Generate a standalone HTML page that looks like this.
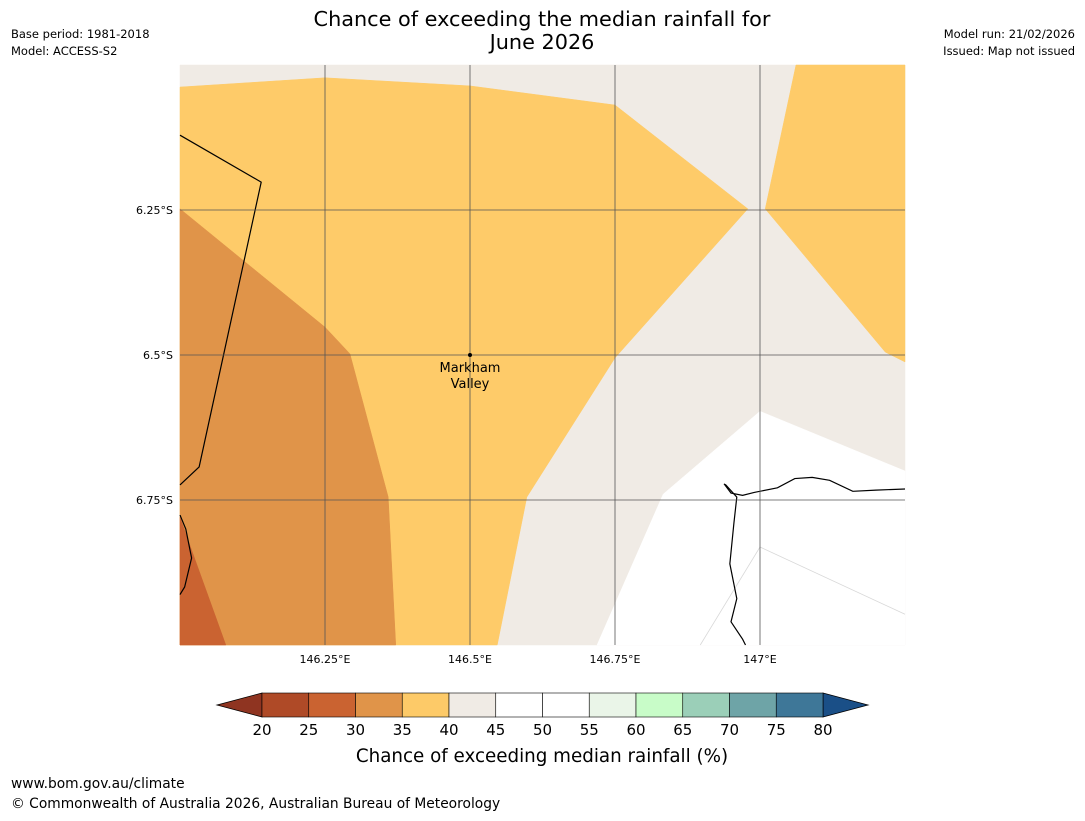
<!DOCTYPE html>
<html><head><meta charset="utf-8">
<style>
body{margin:0;background:#fff;width:1085px;height:816px;overflow:hidden;font-family:"Liberation Sans","DejaVu Sans",sans-serif}
svg text{font-family:"DejaVu Sans","Liberation Sans",sans-serif}
</style></head>
<body>
<svg id="c" width="1085" height="816">
<text x="542" y="26" font-size="20.8" text-anchor="middle">Chance of exceeding the median rainfall for</text>
<text x="542" y="49" font-size="20.8" text-anchor="middle">June 2026</text>
<text x="11" y="38" font-size="11.5">Base period: 1981-2018</text>
<text x="11" y="55" font-size="11.5">Model: ACCESS-S2</text>
<text x="1075" y="38" font-size="11.5" text-anchor="end">Model run: 21/02/2026</text>
<text x="1075" y="55" font-size="11.5" text-anchor="end">Issued: Map not issued</text>
<g id="map"></g>
<g id="cb"></g>
<text x="542" y="762" font-size="18.3" text-anchor="middle">Chance of exceeding median rainfall (%)</text>
<text x="11" y="788" font-size="13.8">www.bom.gov.au/climate</text>
<text x="11" y="808" font-size="13.8">© Commonwealth of Australia 2026, Australian Bureau of Meteorology</text>
</svg>
<script>
const lonTicks=[146.25,146.5,146.75,147];
const lonLabels=["146.25°E","146.5°E","146.75°E","147°E"];
const latTicks=[6.25,6.5,6.75];
const latLabels=["6.25°S","6.5°S","6.75°S"];
const beigeRegion=[[146,6],[147.25,6],[147.25,7],[146,7]];
const whiteRegion=[[147.25,6.7],[147,6.597],[146.833,6.74],[146.719,7],[147.25,7]];
const yellowRegion=[[146,6.038],[146.25,6.022],[146.5,6.036],[146.75,6.069],[146.979,6.248],[146.75,6.505],[146.598,6.745],[146.547,7],[146,7]];
const yellowRegionEast=[[147.062,6],[147.25,6],[147.25,6.512],[147.216,6.495],[147.009,6.248]];
const orangeRegion=[[146,6.248],[146.25,6.452],[146.293,6.498],[146.359,6.745],[146.372,7],[146,7]];
const redRegion=[[146,6.78],[146.017,6.828],[146.079,7],[146,7]];
const contourLine1=[[146.897,7],[147,6.831],[147.25,6.947]];
const borderLine=[[146,6.121],[146.14,6.202],[146.033,6.693],[146,6.724]];
const coastLine=[[146.938,6.722],[146.95,6.738],[146.97,6.742],[146.99,6.737],[147.03,6.729],[147.06,6.713],[147.09,6.711],[147.12,6.716],[147.16,6.735],[147.2,6.733],[147.25,6.731]];
const coastLine2=[[146.94,6.723],[146.96,6.745],[146.955,6.79],[146.948,6.86],[146.96,6.92],[146.95,6.96],[146.97,6.99],[146.975,7]];
const coastWest=[[146,6.776],[146.01,6.8],[146.02,6.85],[146.008,6.9],[146,6.913]];
const binValues=[20,25,30,35,40,45,50,55,60,65,70,75,80];
const binColors=["#af4a27","#ca6331","#e09449","#fdca68","#f0ebe5","#ffffff","#ffffff","#eaf5e8","#c8fcc8","#9bcfb8","#6ea4a7","#3e7798"];
const X0=180,Y0=65,S=580;
const px=lon=>X0+(lon-146)*S, py=lat=>Y0+(lat-6)*S;
const NS="http://www.w3.org/2000/svg";
const map=document.getElementById('map'), cb=document.getElementById('cb');
function mk(tag,attrs,parent){const e=document.createElementNS(NS,tag);for(const k in attrs)e.setAttribute(k,attrs[k]);parent.appendChild(e);return e;}
function pts(a){return a.map(p=>px(p[0])+","+py(p[1])).join(" ");}
function poly(a,fill,name){const e=mk('polygon',{points:pts(a),fill:fill,stroke:fill,'stroke-width':0.5},map);

}
function line(a,stroke,w,name){const e=mk('polyline',{points:pts(a),fill:'none',stroke:stroke,'stroke-width':w},map);

}
poly(beigeRegion,"#f0ebe5","region-40-45");
poly(whiteRegion,"#ffffff","region-45-55");
poly(yellowRegion,"#fecb69","region-35-40");
poly(yellowRegionEast,"#fecb69","region-35-40-east");
poly(orangeRegion,"#e09449","region-30-35");
poly(redRegion,"#ca6331","region-25-30");
line(contourLine1,"#d8d8d8",0.8,"contour-line");
line(borderLine,"#000",1.2,"border-line");
line(coastLine,"#000",1.2,"coastline-north");
line(coastLine2,"#000",1.2,"coastline-river");
line(coastWest,"#000",1.2,"coastline-west");
lonTicks.forEach((t,i)=>{const l=mk('line',{x1:px(t),x2:px(t),y1:py(6),y2:py(7),stroke:'#555','stroke-width':0.8},map);


const tx=mk('text',{x:px(t),y:py(7)+18,'font-size':11,'text-anchor':'middle'},map);tx.textContent=lonLabels[i];

});
latTicks.forEach((t,i)=>{const l=mk('line',{x1:px(146),x2:px(147.25),y1:py(t),y2:py(t),stroke:'#555','stroke-width':0.8},map);


const tx=mk('text',{x:px(146)-7,y:py(t)+4,'font-size':11,'text-anchor':'end'},map);tx.textContent=latLabels[i];

});
const dot=mk('circle',{cx:px(146.5),cy:py(6.5),r:2,fill:'#000'},map);


[["Markham",372],["Valley",388]].forEach(([s,y])=>{const t=mk('text',{x:px(146.5),y:y,'font-size':13,'text-anchor':'middle'},map);t.textContent=s;

});
const CX0=262,CX1=823,CY=693,CH=24;
const cx=v=>CX0+(v-binValues[0])/(binValues[binValues.length-1]-binValues[0])*(CX1-CX0);
const le=mk('polygon',{points:`217,${CY+CH/2} ${CX0},${CY} ${CX0},${CY+CH}`,fill:'#8f3421',stroke:'#000','stroke-width':0.8},cb);


const re=mk('polygon',{points:`868,${CY+CH/2} ${CX1},${CY} ${CX1},${CY+CH}`,fill:'#1a4f87',stroke:'#000','stroke-width':0.8},cb);


binColors.forEach((c,i)=>{const r=mk('rect',{x:cx(binValues[i]),y:CY,width:cx(binValues[i+1])-cx(binValues[i]),height:CH,fill:c,stroke:'#000','stroke-width':0.6},cb);

});
binValues.forEach(v=>{const t=mk('text',{x:cx(v),y:735,'font-size':15,'text-anchor':'middle'},cb);t.textContent=v;

});
</script>
</body></html>
